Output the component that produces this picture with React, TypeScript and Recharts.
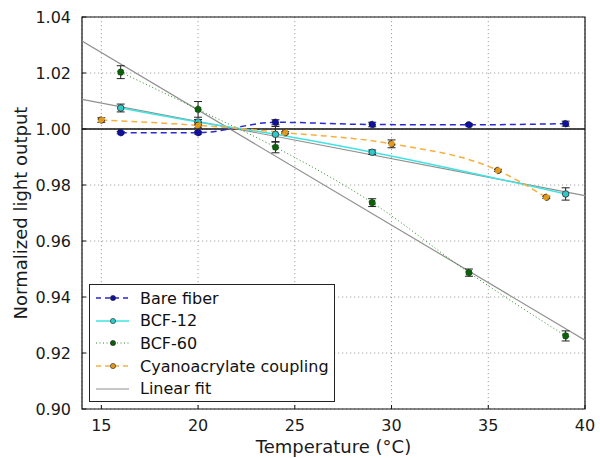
import React from 'react';
import {
  ComposedChart,
  Line,
  XAxis,
  YAxis,
  CartesianGrid,
  ErrorBar,
  ReferenceLine,
  ReferenceArea,
  Legend,
  Label
} from 'recharts';

// values
const bareTemps = [16, 20, 24, 29, 34, 39];
const bareValues = [0.9987, 0.9987, 1.0024, 1.0016, 1.0015, 1.0019];
const bareErrors = [0.0004, 0.0005, 0.0009, 0.0008, 0.0004, 0.0009];

const bcf12Temps = [16, 20, 24, 29, 39];
const bcf12Values = [1.0075, 1.0025, 0.9981, 0.9917, 0.9768];
const bcf12Errors = [0.0014, 0.0009, 0.0028, 0.0008, 0.0022];

const bcf60Temps = [16, 20, 24, 29, 34, 39];
const bcf60Values = [1.0203, 1.007, 0.9935, 0.9737, 0.9487, 0.9261];
const bcf60Errors = [0.0023, 0.0028, 0.002, 0.0014, 0.0013, 0.0018];

const cyanoTemps = [15, 20, 24.5, 30, 35.5, 38];
const cyanoValues = [1.0032, 1.0013, 0.9987, 0.9947, 0.9852, 0.9756];
const cyanoErrors = [0.0008, 0.0009, 0.0004, 0.0014, 0.0004, 0.0004];

const fitTemps = [14, 40];
const fitBcf12 = [1.0106, 0.9762];
const fitBcf60 = [1.0314, 0.9246];

const xTicks = [15, 20, 25, 30, 35, 40];
const yTicks = [0.9, 0.92, 0.94, 0.96, 0.98, 1.0, 1.02, 1.04];

const toRows = (xs: number[], ys: number[], es?: number[]) =>
  xs.map((x, i) => ({ t: x, v: ys[i], e: es ? es[i] : 0 }));

const bareData = toRows(bareTemps, bareValues, bareErrors);
const bcf12Data = toRows(bcf12Temps, bcf12Values, bcf12Errors);
const bcf60Data = toRows(bcf60Temps, bcf60Values, bcf60Errors);
const cyanoData = toRows(cyanoTemps, cyanoValues, cyanoErrors);
const fit12Data = toRows(fitTemps, fitBcf12);
const fit60Data = toRows(fitTemps, fitBcf60);

const FONT = '"DejaVu Sans", sans-serif';

const LEGEND_ITEMS = [
  { label: 'Bare fiber', stroke: '#2a2ad0', dash: '5 4', dot: '#1010a0', width: 1.5 },
  { label: 'BCF-12', stroke: '#3fe3e3', dash: undefined, dot: '#33c8c8', width: 1.5 },
  { label: 'BCF-60', stroke: '#2a8a2a', dash: '1 2.5', dot: '#0d5e0d', width: 1 },
  { label: 'Cyanoacrylate coupling', stroke: '#f6b040', dash: '5 4', dot: '#e09a20', width: 1.5 },
  { label: 'Linear fit', stroke: '#909090', dash: undefined, dot: null, width: 1.2 }
];

function renderLegend() {
  return (
    <div
      style={{
        border: '1px solid #222',
        background: '#fff',
        padding: '2px 0',
        fontFamily: FONT,
        fontSize: 16,
        color: '#111',
        boxSizing: 'border-box',
        width: 246,
        height: 118
      }}
    >
      {LEGEND_ITEMS.map((it) => (
        <div key={it.label} style={{ display: 'flex', alignItems: 'center', height: 22.6 }}>
          <svg width={50} height={14} style={{ flex: 'none' }}>
            <line
              x1={6}
              x2={39}
              y1={7}
              y2={7}
              stroke={it.stroke}
              strokeWidth={it.width}
              strokeDasharray={it.dash}
            />
            {it.dot && <circle cx={23} cy={7} r={2.6} fill={it.dot} stroke="#222" strokeWidth={0.6} />}
          </svg>
          <span>{it.label}</span>
        </div>
      ))}
    </div>
  );
}

const dotStyle = (fill: string) => ({ r: 3.3, fill, stroke: '#1a1a1a', strokeWidth: 0.7 });
const tickLineStyle = { stroke: '#111', strokeWidth: 1 };

export default function App() {
  return (
    <div style={{ position: 'absolute', left: 0, top: 0, background: '#fff' }}>
      <ComposedChart
        width={600}
        height={458}
        margin={{ top: 17, right: 15, left: 0, bottom: 0 }}
        style={{ fontFamily: FONT }}
      >
        <CartesianGrid stroke="#8a8a8a" strokeDasharray="1.2 2.8" strokeWidth={0.8} />
        <XAxis
          type="number"
          dataKey="t"
          domain={[14, 40]}
          ticks={xTicks}
          allowDataOverflow
          axisLine={false}
          tickLine={tickLineStyle}
          tickSize={-4}
          tickMargin={15}
          height={49}
          tick={{ fill: '#1a1a1a', fontSize: 16 }}
        >
          <Label
            value="Temperature (°C)"
            position="insideBottom"
            offset={5}
            style={{ fill: '#1a1a1a', fontSize: 18, fontFamily: FONT }}
          />
        </XAxis>
        <XAxis
          xAxisId="top"
          orientation="top"
          type="number"
          dataKey="t"
          domain={[14, 40]}
          ticks={xTicks}
          allowDataOverflow
          axisLine={false}
          tickLine={tickLineStyle}
          tickSize={-4}
          tick={false}
          height={0}
        />
        <YAxis
          type="number"
          domain={[0.9, 1.04]}
          ticks={yTicks}
          allowDataOverflow
          axisLine={false}
          tickLine={tickLineStyle}
          tickSize={-4}
          tickMargin={15}
          width={82}
          tickFormatter={(v: number) => v.toFixed(2)}
          tick={{ fill: '#1a1a1a', fontSize: 16 }}
        >
          <Label
            value="Normalized light output"
            angle={-90}
            position="insideLeft"
            offset={21}
            style={{ fill: '#1a1a1a', fontSize: 18, textAnchor: 'middle', fontFamily: FONT }}
          />
        </YAxis>
        <YAxis
          yAxisId="right"
          orientation="right"
          type="number"
          domain={[0.9, 1.04]}
          ticks={yTicks}
          allowDataOverflow
          axisLine={false}
          tickLine={tickLineStyle}
          tickSize={-4}
          tick={false}
          width={0}
        />
        <ReferenceLine y={1} stroke="#111" strokeWidth={1.4} />

        <Line
          data={fit12Data}
          dataKey="v"
          type="linear"
          stroke="#909090"
          strokeWidth={1.2}
          dot={false}
          isAnimationActive={false}
        />
        <Line
          data={fit60Data}
          dataKey="v"
          type="linear"
          stroke="#909090"
          strokeWidth={1.2}
          dot={false}
          isAnimationActive={false}
        />

        <Line
          data={bareData}
          dataKey="v"
          type="monotone"
          stroke="#2a2ad0"
          strokeWidth={1.5}
          strokeDasharray="6 4"
          dot={dotStyle('#1010a0')}
          isAnimationActive={false}
        >
          <ErrorBar dataKey="e" direction="y" width={4} stroke="#222" strokeWidth={1} />
        </Line>
        <Line
          data={bcf12Data}
          dataKey="v"
          type="monotone"
          stroke="#3fe3e3"
          strokeWidth={1.5}
          dot={dotStyle('#33c8c8')}
          isAnimationActive={false}
        >
          <ErrorBar dataKey="e" direction="y" width={4} stroke="#222" strokeWidth={1} />
        </Line>
        <Line
          data={bcf60Data}
          dataKey="v"
          type="monotone"
          stroke="#2a8a2a"
          strokeWidth={1}
          strokeDasharray="1 2.5"
          dot={dotStyle('#0d5e0d')}
          isAnimationActive={false}
        >
          <ErrorBar dataKey="e" direction="y" width={4} stroke="#222" strokeWidth={1} />
        </Line>
        <Line
          data={cyanoData}
          dataKey="v"
          type="monotone"
          stroke="#f6b040"
          strokeWidth={1.5}
          strokeDasharray="6 4"
          dot={dotStyle('#e09a20')}
          isAnimationActive={false}
        >
          <ErrorBar dataKey="e" direction="y" width={4} stroke="#222" strokeWidth={1} />
        </Line>

        <ReferenceArea x1={14} x2={40} y1={0.9} y2={1.04} fill="none" stroke="#111" strokeWidth={1.2} />
        <Legend
          layout="horizontal"
          verticalAlign="middle"
          align="center"
          wrapperStyle={{ left: 89, top: 284, width: 246, height: 118 }}
          content={renderLegend}
        />
      </ComposedChart>
    </div>
  );
}
